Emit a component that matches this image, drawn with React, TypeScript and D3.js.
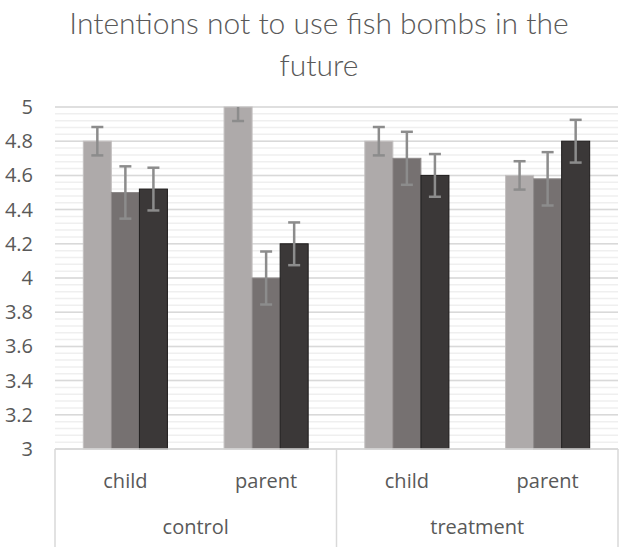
// Grouped bar chart with error bars, drawn with D3
import { useEffect, useRef } from 'react';
import * as d3 from 'd3';

const groups = ['control', 'treatment'];
const categories = ['child', 'parent', 'child', 'parent'];
const categoryGroup = ['control', 'control', 'treatment', 'treatment'];
const seriesNames = ['Time 1', 'Time 2', 'Time 3'];

const series1 = [4.8, 5.0, 4.8, 4.6];
const series2 = [4.5, 4.0, 4.7, 4.58];
const series3 = [4.52, 4.2, 4.6, 4.8];
const error1 = [0.083, 0.082, 0.083, 0.083];
const error2 = [0.153, 0.155, 0.155, 0.156];
const error3 = [0.125, 0.125, 0.125, 0.125];

const yTicks = [3, 3.2, 3.4, 3.6, 3.8, 4, 4.2, 4.4, 4.6, 4.8, 5];
const title = ['Intentions not to use fish bombs in the', 'future'];

const App = () => {
  const svgRef = useRef<SVGSVGElement>(null);
  const width = 624;
  const height = 547;
  const margin = { top: 107, right: 6, bottom: 98, left: 55 };

  useEffect(() => {
    if (!svgRef.current) return;
    const svg = d3.select(svgRef.current);
    svg.selectAll('*').remove();

    const innerWidth = width - margin.left - margin.right;
    const innerHeight = height - margin.top - margin.bottom;
    const titleFont = 'Lato, "Open Sans", sans-serif';
    const font = '"Open Sans", Lato, sans-serif';

    const values = [series1, series2, series3];
    const errors = [error1, error2, error3];
    const colors = ['#AEAAAA', '#767171', '#3B3838'];
    const strokes = ['#C4C1C1', '#8E8A8A', '#1E1C1C'];

    const keys = categories.map((c, i) => `${categoryGroup[i]}-${c}`);
    const xScale = d3.scaleBand().domain(keys).range([0, innerWidth]);
    const subScale = d3.scaleBand()
      .domain(seriesNames)
      .range([0, xScale.bandwidth()])
      .paddingOuter(1.01);
    const yScale = d3.scaleLinear().domain([3, 5]).range([innerHeight, 0]);

    // Title
    svg.append('g')
      .selectAll('text')
      .data(title)
      .enter().append('text')
      .attr('x', 319)
      .attr('y', (d, i) => 34 + i * 42)
      .attr('text-anchor', 'middle')
      .attr('fill', '#595959')
      .style('font-family', titleFont)
      .style('font-weight', 300)
      .style('font-size', '30px')
      .text(d => d);

    const g = svg.append('g')
      .attr('transform', `translate(${margin.left},${margin.top})`);

    g.append('clipPath')
      .attr('id', 'plot-clip')
      .append('rect')
      .attr('x', 0)
      .attr('y', 0)
      .attr('width', innerWidth)
      .attr('height', innerHeight);

    // Minor grid lines
    const minorTicks = d3.range(3, 5.0001, 0.04);
    g.selectAll('.minor-grid')
      .data(minorTicks)
      .enter().append('line')
      .attr('class', 'minor-grid')
      .attr('x1', 0)
      .attr('x2', innerWidth)
      .attr('y1', d => yScale(d))
      .attr('y2', d => yScale(d))
      .attr('stroke', '#EFEFEF')
      .attr('stroke-width', 1.5);

    // Major grid lines
    g.selectAll('.major-grid')
      .data(yTicks)
      .enter().append('line')
      .attr('class', 'major-grid')
      .attr('x1', 0)
      .attr('x2', innerWidth)
      .attr('y1', d => yScale(d))
      .attr('y2', d => yScale(d))
      .attr('stroke', '#D9D9D9')
      .attr('stroke-width', 1.5);

    // Y axis labels
    g.selectAll('.y-label')
      .data(yTicks)
      .enter().append('text')
      .attr('class', 'y-label')
      .attr('x', -22)
      .attr('y', d => yScale(d))
      .attr('dy', '0.35em')
      .attr('text-anchor', 'end')
      .attr('fill', '#595959')
      .style('font-family', font)
      .style('font-size', '20px')
      .text(d => d3.format('~g')(d));

    // Bars
    values.forEach((vals, s) => {
      g.selectAll(`.bar-${s}`)
        .data(vals)
        .enter().append('rect')
        .attr('class', `bar-${s}`)
        .attr('x', (d, i) => (xScale(keys[i]) || 0) + (subScale(seriesNames[s]) || 0))
        .attr('width', subScale.bandwidth())
        .attr('y', d => yScale(d))
        .attr('height', d => innerHeight - yScale(d))
        .attr('fill', colors[s])
        .attr('stroke', strokes[s])
        .attr('stroke-width', 1);
    });

    // Error bars
    const errG = g.append('g').attr('clip-path', 'url(#plot-clip)');
    values.forEach((vals, s) => {
      vals.forEach((v, i) => {
        const cx = (xScale(keys[i]) || 0) + (subScale(seriesNames[s]) || 0) + subScale.bandwidth() / 2;
        const lo = yScale(v - errors[s][i]);
        const hi = yScale(v + errors[s][i]);
        const eg = errG.append('g')
          .attr('stroke', '#8C8C8C')
          .attr('stroke-width', 2.5);
        eg.append('line').attr('x1', cx).attr('x2', cx).attr('y1', lo).attr('y2', hi);
        eg.append('line').attr('x1', cx - 6).attr('x2', cx + 6).attr('y1', lo).attr('y2', lo);
        eg.append('line').attr('x1', cx - 6).attr('x2', cx + 6).attr('y1', hi).attr('y2', hi);
      });
    });

    // Category axis box
    const boxColor = '#D9D9D9';
    g.append('line')
      .attr('x1', 0).attr('x2', innerWidth)
      .attr('y1', innerHeight).attr('y2', innerHeight)
      .attr('stroke', boxColor).attr('stroke-width', 1.5);

    const groupStarts = groups.map(grp => xScale(keys[categoryGroup.indexOf(grp)]) || 0);
    g.selectAll('.group-sep')
      .data([...groupStarts, innerWidth])
      .enter().append('line')
      .attr('class', 'group-sep')
      .attr('x1', d => d).attr('x2', d => d)
      .attr('y1', innerHeight).attr('y2', innerHeight + margin.bottom)
      .attr('stroke', boxColor).attr('stroke-width', 1.5);

    g.selectAll('.cat-label')
      .data(categories)
      .enter().append('text')
      .attr('class', 'cat-label')
      .attr('x', (d, i) => (xScale(keys[i]) || 0) + xScale.bandwidth() / 2)
      .attr('y', innerHeight + 39)
      .attr('text-anchor', 'middle')
      .attr('fill', '#595959')
      .style('font-family', font)
      .style('font-size', '20px')
      .text(d => d);

    g.selectAll('.group-label')
      .data(groups)
      .enter().append('text')
      .attr('class', 'group-label')
      .attr('x', (d, i) => groupStarts[i] + xScale.bandwidth())
      .attr('y', innerHeight + 85)
      .attr('text-anchor', 'middle')
      .attr('fill', '#595959')
      .style('font-family', font)
      .style('font-size', '20px')
      .text(d => d);
  }, []);

  return (
    <div style={{ position: 'absolute', left: 0, top: 0, background: '#fff' }}>
      <svg ref={svgRef} width={width} height={height} style={{ display: 'block' }} />
    </div>
  );
};

export default App;
